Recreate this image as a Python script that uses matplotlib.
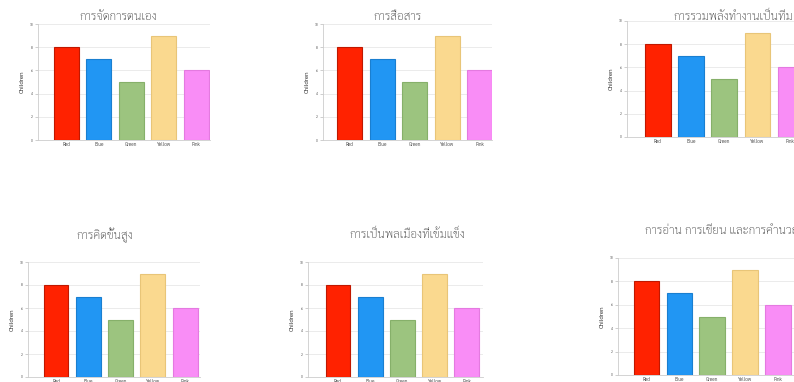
import matplotlib
matplotlib.use("Agg")
import matplotlib.pyplot as plt
import numpy as np

plt.rcParams['font.family'] = ['Sarabun', 'Noto Sans Thai', 'DejaVu Sans']

# data
categories = ['Red', 'Blue', 'Green', 'Yellow', 'Pink']
children = [8, 7, 5, 9, 6]
bar_colors = ['#ff2200', '#2196f3', '#9cc47f', '#fad98f', '#f98df6']
edge_colors = ['#c01800', '#1a7fd0', '#86b06a', '#e8c578', '#e47ae0']
titles = ['การจัดการตนเอง', 'การสื่อสาร', 'การรวมพลังทำงานเป็นทีม',
          'การคิดขั้นสูง', 'การเป็นพลเมืองที่เข้มแข็ง', 'การอ่าน การเขียน และการคำนวณ']
yticks = [0, 2, 4, 6, 8, 10]

W, H = 794, 382
fig = plt.figure(figsize=(W / 100, H / 100), dpi=100)

# panel boxes in pixels: left, right, top, bottom, title x, title y, xlim
panels = [
    (38, 210, 24, 140, 118, 17, (-0.88, 4.43)),
    (323, 492, 24, 140, 398, 17, (-0.83, 4.37)),
    (627, 870, 21, 137, 733, 17, (-0.93, 6.4)),
    (28, 200, 262, 377, 105, 235, (-0.87, 4.46)),
    (308, 483, 262, 377, 407, 235, (-0.93, 4.5)),
    (618, 870, 258, 375, 645, 232, (-0.86, 6.8)),
]

for i, (l, r, t, b, tx, ty, xl) in enumerate(panels):
    ax = fig.add_axes([l / W, 1 - b / H, (r - l) / W, (b - t) / H])
    x = np.arange(len(categories))
    ax.bar(x, children, width=0.77, color=bar_colors, edgecolor=edge_colors,
           linewidth=0.8, zorder=3)
    ax.set_xlim(*xl)
    ax.set_ylim(0, 10)
    ax.set_yticks(yticks)
    ax.set_yticklabels([str(v) for v in yticks], fontsize=2.5, color='#555555')
    ax.set_xticks(x)
    ax.set_xticklabels(categories, fontsize=3.5, color='#555555')
    ax.tick_params(axis='both', length=2, width=0.5, color='#bbbbbb', pad=1.5)
    ax.tick_params(axis='x', length=0)
    ax.grid(axis='y', color='#e8e8e8', linewidth=0.6, zorder=0)
    for s in ['top', 'right']:
        ax.spines[s].set_visible(False)
    ax.spines['left'].set_color('#cccccc')
    ax.spines['left'].set_linewidth(0.6)
    ax.spines['bottom'].set_color('#cccccc')
    ax.spines['bottom'].set_linewidth(0.6)
    ax.set_ylabel('Children', fontsize=4.5, color='#333333', labelpad=3)
    ha = 'left' if i == 5 else 'center'
    fig.text(tx / W, 1 - ty / H, titles[i], ha=ha, va='center',
             fontsize=8.5, color='#3a3a3a', fontweight='light')

fig.savefig('out.png', dpi=100)
